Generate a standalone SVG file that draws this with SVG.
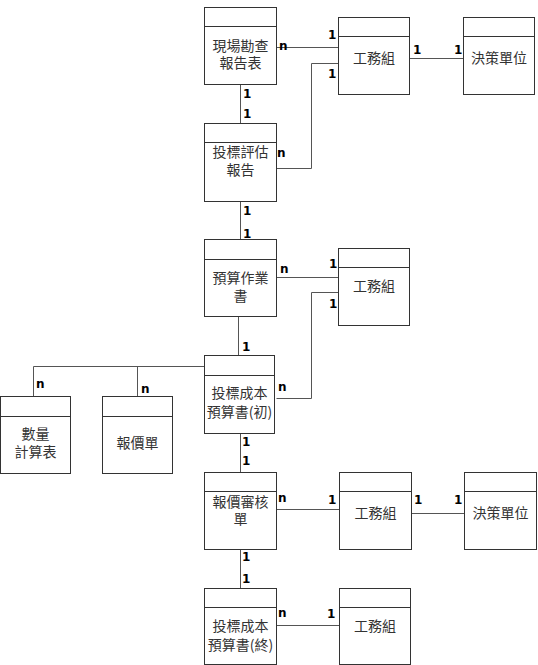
<svg xmlns="http://www.w3.org/2000/svg" width="538" height="665" viewBox="0 0 538 665">
<style>
.box{fill:#fff;stroke:#333;stroke-width:1}
.hd{stroke:#333;stroke-width:1}
.t{font-family:"Noto Sans CJK TC","Noto Sans CJK SC",sans-serif;font-size:14px;fill:#333;text-anchor:middle}
.l{font-family:"DejaVu Sans",sans-serif;font-size:12px;font-weight:bold;fill:#000}
.c{fill:none;stroke:#555;stroke-width:1}
</style>
<rect width="538" height="665" fill="#fff"/>
<g id="connectors">
<path class="c" d="M276.5,47.5H338.5"/>
<path class="c" d="M276.5,168.5H311.5V63.5H338.5"/>
<path class="c" d="M409.5,58.5H463.5"/>
<path class="c" d="M240.5,84.5V123.5"/>
<path class="c" d="M240.5,201.5V239.5"/>
<path class="c" d="M276.5,277.5H338.5"/>
<path class="c" d="M276.5,398.5H311.5V292.5H338.5"/>
<path class="c" d="M238.5,316.5V355.5"/>
<path class="c" d="M204.5,366.5H33.5V396.5M137.5,366.5V396.5"/>
<path class="c" d="M240.5,433.5V472.5"/>
<path class="c" d="M276.5,509.5H339.5"/>
<path class="c" d="M411.5,513.5H464.5"/>
<path class="c" d="M240.5,549.5V588.5"/>
<path class="c" d="M276.5,625.5H339.5"/>
<text class="l" x="279" y="50">n</text>
<text class="l" x="328" y="39">1</text>
<text class="l" x="328" y="78">1</text>
<text class="l" x="413" y="54">1</text>
<text class="l" x="454" y="54">1</text>
<text class="l" x="243" y="98">1</text>
<text class="l" x="243" y="118">1</text>
<text class="l" x="277" y="157">n</text>
<text class="l" x="243" y="215">1</text>
<text class="l" x="243" y="238">1</text>
<text class="l" x="280" y="273">n</text>
<text class="l" x="329" y="268">1</text>
<text class="l" x="329" y="308">1</text>
<text class="l" x="242" y="351">1</text>
<text class="l" x="36" y="388">n</text>
<text class="l" x="141" y="393">n</text>
<text class="l" x="278" y="391">n</text>
<text class="l" x="242" y="446">1</text>
<text class="l" x="242" y="465">1</text>
<text class="l" x="278" y="502">n</text>
<text class="l" x="328" y="504">1</text>
<text class="l" x="414" y="504">1</text>
<text class="l" x="454" y="504">1</text>
<text class="l" x="242" y="561">1</text>
<text class="l" x="242" y="583">1</text>
<text class="l" x="278" y="617">n</text>
<text class="l" x="327" y="618">1</text>
</g>
<g id="n1"><rect class="box" x="204.5" y="7.5" width="72" height="77"/><path class="hd" d="M204.5,26.5H276.5"/><text class="t" x="240.5" y="51">現場勘查</text><text class="t" x="240.5" y="68">報告表</text></g>
<g id="n2"><rect class="box" x="338.5" y="17.5" width="71" height="77"/><path class="hd" d="M338.5,36.5H409.5"/><text class="t" x="374" y="63">工務組</text></g>
<g id="n3"><rect class="box" x="463.5" y="17.5" width="71" height="77"/><path class="hd" d="M463.5,36.5H534.5"/><text class="t" x="499" y="63">決策單位</text></g>
<g id="n4"><rect class="box" x="204.5" y="123.5" width="72" height="78"/><path class="hd" d="M204.5,142.5H276.5"/><text class="t" x="240.5" y="157">投標評估</text><text class="t" x="240.5" y="175">報告</text></g>
<g id="n5"><rect class="box" x="204.5" y="239.5" width="72" height="77"/><path class="hd" d="M204.5,259.5H276.5"/><text class="t" x="240.5" y="283">預算作業</text><text class="t" x="240.5" y="301">書</text></g>
<g id="n6"><rect class="box" x="338.5" y="248.5" width="71" height="77"/><path class="hd" d="M338.5,267.5H409.5"/><text class="t" x="374" y="291">工務組</text></g>
<g id="n7"><rect class="box" x="204.5" y="355.5" width="70" height="78"/><path class="hd" d="M204.5,375.5H274.5"/><text class="t" x="239.5" y="398">投標成本</text><text class="t" x="239.5" y="417">預算書(初)</text></g>
<g id="n8"><rect class="box" x="0.5" y="396.5" width="70" height="77"/><path class="hd" d="M0.5,416.5H70.5"/><text class="t" x="35.5" y="439">數量</text><text class="t" x="35.5" y="457">計算表</text></g>
<g id="n9"><rect class="box" x="102.5" y="396.5" width="70" height="77"/><path class="hd" d="M102.5,416.5H172.5"/><text class="t" x="137.5" y="448">報價單</text></g>
<g id="n10"><rect class="box" x="204.5" y="472.5" width="72" height="77"/><path class="hd" d="M204.5,491.5H276.5"/><text class="t" x="240.5" y="507">報價審核</text><text class="t" x="240.5" y="524">單</text></g>
<g id="n11"><rect class="box" x="339.5" y="472.5" width="72" height="77"/><path class="hd" d="M339.5,491.5H411.5"/><text class="t" x="375.5" y="518">工務組</text></g>
<g id="n12"><rect class="box" x="464.5" y="472.5" width="72" height="77"/><path class="hd" d="M464.5,491.5H536.5"/><text class="t" x="500.5" y="518">決策單位</text></g>
<g id="n13"><rect class="box" x="204.5" y="588.5" width="72" height="76"/><path class="hd" d="M204.5,607.5H276.5"/><text class="t" x="240.5" y="631">投標成本</text><text class="t" x="240.5" y="650">預算書(終)</text></g>
<g id="n14"><rect class="box" x="339.5" y="588.5" width="71" height="76"/><path class="hd" d="M339.5,607.5H410.5"/><text class="t" x="375" y="631">工務組</text></g>
</svg>
